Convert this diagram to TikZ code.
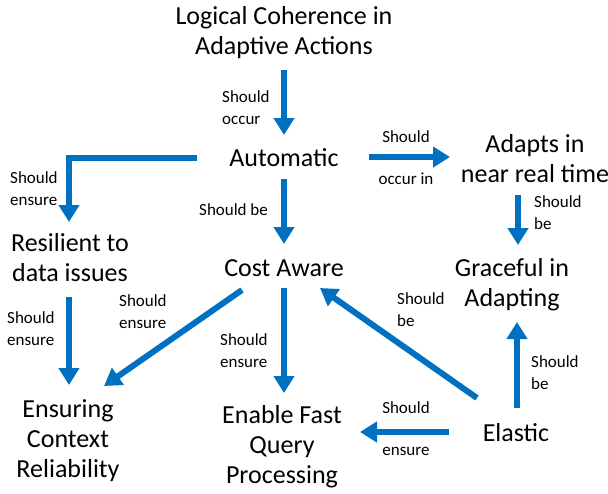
\documentclass[tikz,border=0pt]{standalone}
\usepackage{fontspec}
\setmainfont{Carlito}
\usetikzlibrary{arrows.meta}
\definecolor{arrowblue}{HTML}{0070C0}
\begin{document}
\begin{tikzpicture}[x=1pt,y=-1pt,
    box/.style={font=\fontsize{26}{30}\selectfont, align=center, inner sep=0pt},
    note/.style={font=\fontsize{17}{22}\selectfont, align=left, inner sep=0pt, anchor=west},
    flow/.style={draw=arrowblue, line width=6pt, -{Triangle[width=20pt,length=17pt]}}]
            \useasboundingbox (0,0) rectangle (608,493);
            \node[box] (logic) at (284,33) {Logical Coherence in\\Adaptive Actions};
            \node[box] (auto) at (284,158) {Automatic};
            \node[box] (adapt) at (535,159) {Adapts in\\near real time};
            \node[box] (grace) at (512,285) {Graceful in\\Adapting};
            \node[box] (resil) at (70,258) {Resilient to\\data issues};
            \node[box] (cost) at (284,268) {Cost Aware};
            \node[box] (ensure) at (68,441) {Ensuring\\Context\\Reliability};
            \node[box] (fast) at (282,447) {Enable Fast\\Query\\Processing};
            \node[box] (elastic) at (516,433) {Elastic};
            \draw[flow] ([shift={(0,37)}]logic.center) -- ([shift={(0,-23)}]auto.center);
            \draw[flow] ([shift={(85,-1)}]auto.center) -- ([shift={(-85,-2)}]adapt.center);
            \draw[flow] ([shift={(-17,36)}]adapt.center) -- ([shift={(6,-40)}]grace.center);
            \draw[flow] ([shift={(1,-25)}]elastic.center) -- ([shift={(5,37)}]grace.center);
            \draw[flow] ([shift={(-39,-35)}]elastic.center) -- ([shift={(36,20)}]cost.center);
            \draw[flow] ([shift={(-67,-1)}]elastic.center) -- ([shift={(78,-15)}]fast.center);
            \draw[flow] ([shift={(0,21)}]auto.center) -- ([shift={(0,-24)}]cost.center);
            \draw[flow] ([shift={(0,20)}]cost.center) -- ([shift={(2,-54)}]fast.center);
            \draw[flow] ([shift={(-42,22)}]cost.center) -- ([shift={(36,-55)}]ensure.center);
            \draw[flow] ([shift={(-1,39)}]resil.center) -- ([shift={(1,-56)}]ensure.center);
            \draw[flow] ([xshift=-87]auto.center) -| ([shift={(-1,-36)}]resil.center);
            \node[note] (n1) at (222,108) {Should\\occur};
            \node[note, anchor=center, align=center] (n2) at (406,158) {Should\\[20pt]occur in};
            \node[note] (n3) at (534,213) {Should\\be};
            \node[note] (n4) at (10,189) {Should\\ensure};
            \node[note] (n5) at (199,210) {Should be};
            \node[note] (n6) at (119,312) {Should\\ensure};
            \node[note] (n7) at (7,329) {Should\\ensure};
            \node[note] (n8) at (220,351) {Should\\ensure};
            \node[note] (n9) at (397,310) {Should\\be};
            \node[note, anchor=center, align=center] (n10) at (406,429) {Should\\[20pt]ensure};
            \node[note] (n11) at (531,373) {Should\\be};
        \end{tikzpicture}
\end{document}
